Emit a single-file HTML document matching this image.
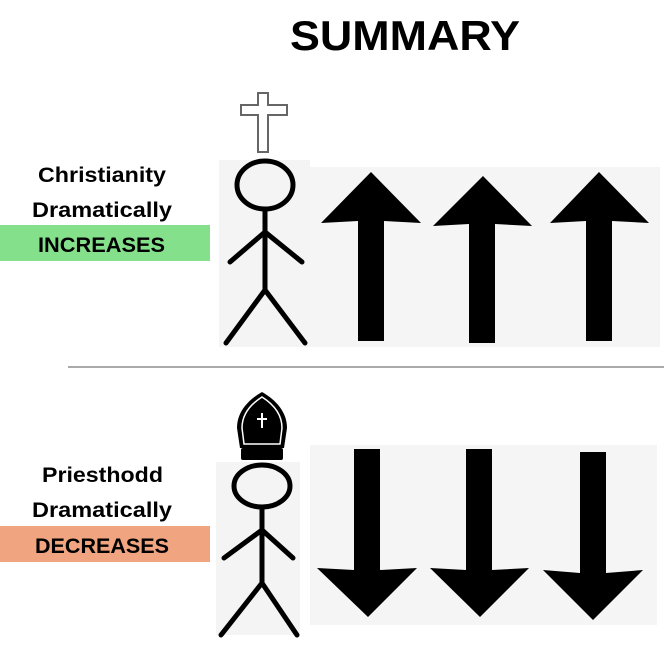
<!DOCTYPE html>
<html><head><style>html,body{margin:0;padding:0;background:#fff}svg{display:block}</style></head>
<body>
<svg width="664" height="648" viewBox="0 0 664 648" xmlns="http://www.w3.org/2000/svg" font-family="Liberation Sans, sans-serif" font-weight="bold">
<text x="405" y="50" font-size="42" text-anchor="middle" textLength="230" lengthAdjust="spacingAndGlyphs">SUMMARY</text>

<!-- left labels top -->
<rect x="0" y="225" width="210" height="36" fill="#85e08c"/>
<text x="38" y="182" font-size="21" textLength="128" lengthAdjust="spacingAndGlyphs">Christianity</text>
<text x="32" y="217" font-size="21" textLength="140" lengthAdjust="spacingAndGlyphs">Dramatically</text>
<text x="38" y="252" font-size="21" textLength="127" lengthAdjust="spacingAndGlyphs">INCREASES</text>

<!-- left labels bottom -->
<rect x="0" y="526" width="210" height="36" fill="#f0a47f"/>
<text x="42" y="482" font-size="21" textLength="121" lengthAdjust="spacingAndGlyphs">Priesthodd</text>
<text x="32" y="517" font-size="21" textLength="140" lengthAdjust="spacingAndGlyphs">Dramatically</text>
<text x="35" y="553" font-size="21" textLength="134" lengthAdjust="spacingAndGlyphs">DECREASES</text>

<!-- divider -->
<line x1="68" y1="367" x2="664" y2="367" stroke="#555" stroke-width="1"/>

<!-- top figure -->
<rect x="219" y="160" width="91" height="187" fill="#f4f4f4"/>
<rect x="310" y="167" width="350" height="180" fill="#f5f5f5"/>
<path d="M258 93 h10 v12 h19 v10 h-19 v37 h-10 v-37 h-17 v-10 h17 z" fill="#fff" stroke="#666" stroke-width="2"/>
<g stroke="#000" stroke-width="5" stroke-linecap="round" fill="none">
<ellipse cx="265" cy="185" rx="28" ry="24"/>
<line x1="265" y1="209" x2="265" y2="290"/>
<line x1="265" y1="232" x2="230" y2="262"/>
<line x1="265" y1="232" x2="302" y2="262"/>
<line x1="265" y1="290" x2="226" y2="343"/>
<line x1="265" y1="290" x2="305" y2="343"/>
</g>
<g fill="#000">
<polygon points="371,172 421,223 384,221 384,341 358,341 358,221 321,223"/>
<polygon points="483,176 532,226 495,224 495,343 469,343 469,224 433,226"/>
<polygon points="599,172 649,223 612,221 612,341 586,341 586,221 550,223"/>
</g>

<!-- bottom figure -->
<rect x="216" y="462" width="84" height="173" fill="#f4f4f4"/>
<rect x="310" y="445" width="347" height="180" fill="#f5f5f5"/>
<path d="M262 392 C248 400 237 412 237 428 L240 448 L284 448 L287 428 C287 412 276 400 262 392 Z" fill="#000"/>
<path d="M262 397 C251 404 242 414 242 428 L244 444 L280 444 L282 428 C282 414 273 404 262 397 Z" fill="none" stroke="#fff" stroke-width="1.5"/>
<rect x="241" y="448" width="42" height="12" rx="2" fill="#000"/>
<path d="M262 413 v15 M257 419 h10" stroke="#fff" stroke-width="2"/>
<g stroke="#000" stroke-width="5" stroke-linecap="round" fill="none">
<ellipse cx="262" cy="486" rx="28" ry="21"/>
<line x1="262" y1="507" x2="262" y2="583"/>
<line x1="262" y1="530" x2="224" y2="558"/>
<line x1="262" y1="530" x2="293" y2="558"/>
<line x1="262" y1="583" x2="221" y2="635"/>
<line x1="262" y1="583" x2="297" y2="635"/>
</g>
<g fill="#000">
<polygon points="354,449 380,449 380,570 417,568 368,617 317,568 354,570"/>
<polygon points="466,449 492,449 492,570 529,568 480,617 430,568 466,570"/>
<polygon points="580,452 606,452 606,573 643,570 593,620 543,570 580,573"/>
</g>
</svg>
</body></html>
